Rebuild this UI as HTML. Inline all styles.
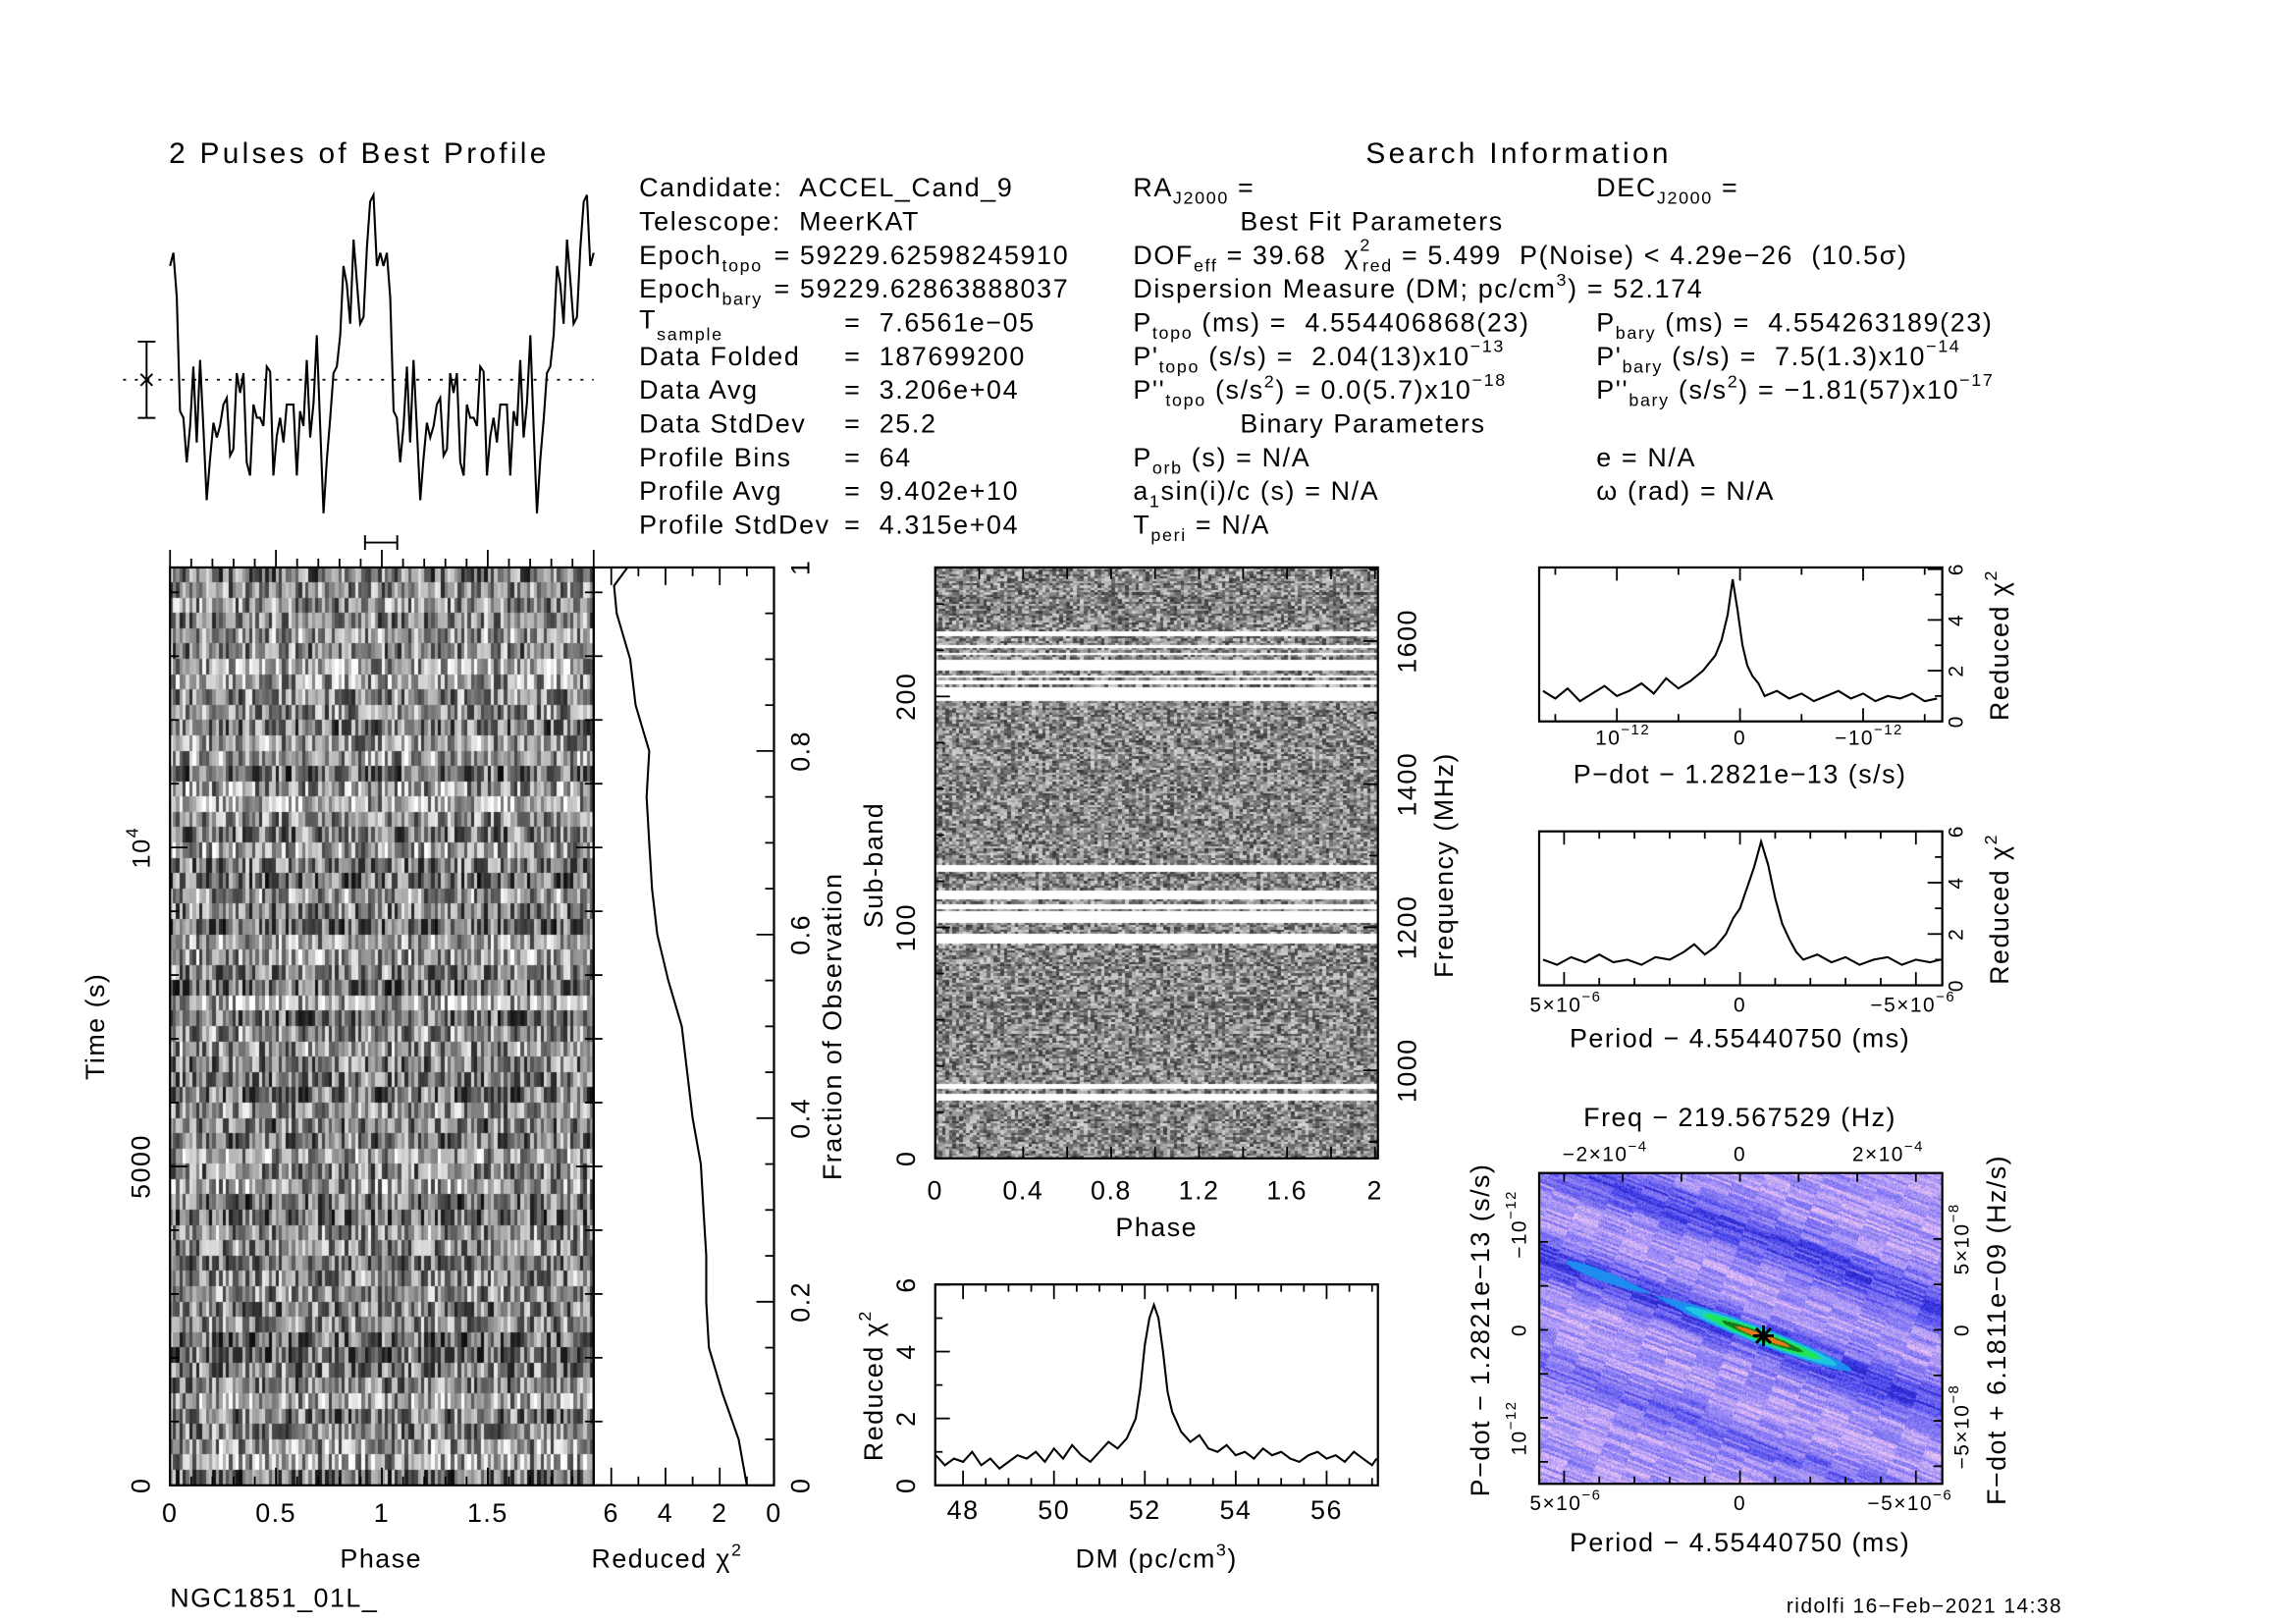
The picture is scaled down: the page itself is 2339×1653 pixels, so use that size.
<!DOCTYPE html>
<html><head><meta charset="utf-8">
<style>
html,body{margin:0;padding:0;background:#fff;}
#wrap{position:relative;width:2339px;height:1653px;overflow:hidden;background:#fff;}
canvas{position:absolute;}
svg{position:absolute;left:0;top:0;}
text{font-family:"Liberation Sans","DejaVu Sans",sans-serif;fill:#000;white-space:pre;letter-spacing:1px;}
.blk text{letter-spacing:1.1px;}
</style></head>
<body>
<div id="wrap">
<canvas id="cvTP"></canvas>
<canvas id="cvSB"></canvas>
<canvas id="cvPP"></canvas>
<svg id="svg" width="2339" height="1653" viewBox="0 0 1566.3 1106.9" xml:space="preserve">
<g font-size="17">
<text x="245" y="111" text-anchor="middle" font-size="20" style="letter-spacing:2.2px">2 Pulses of Best Profile</text>
<text x="1036" y="111" text-anchor="middle" font-size="20" style="letter-spacing:2.2px">Search Information</text>
</g>
<g class="blk" font-size="18">
<text x="436" y="134">Candidate:  ACCEL_Cand_9</text>
<text x="436" y="157">Telescope:  MeerKAT</text>
<text x="436" y="180">Epoch<tspan font-size="12" dy="5">topo</tspan><tspan dy="-5" x="528">= 59229.62598245910</tspan></text>
<text x="436" y="203">Epoch<tspan font-size="12" dy="5">bary</tspan><tspan dy="-5" x="528">= 59229.62863888037</tspan></text>
<text x="436" y="224">T<tspan font-size="12" dy="8">sample</tspan><tspan dy="-6" x="576">=  7.6561e−05</tspan></text>
<text x="436" y="249">Data Folded<tspan x="576">=  187699200</tspan></text>
<text x="436" y="272">Data Avg<tspan x="576">=  3.206e+04</tspan></text>
<text x="436" y="295">Data StdDev<tspan x="576">=  25.2</tspan></text>
<text x="436" y="318">Profile Bins<tspan x="576">=  64</tspan></text>
<text x="436" y="341">Profile Avg<tspan x="576">=  9.402e+10</tspan></text>
<text x="436" y="364">Profile StdDev<tspan x="576">=  4.315e+04</tspan></text>
</g>
<g class="blk" font-size="18">
<text x="773" y="134">RA<tspan font-size="12" dy="5">J2000</tspan><tspan dy="-5"> =</tspan></text>
<text x="846" y="157">Best Fit Parameters</text>
<text x="773" y="180">DOF<tspan font-size="12" dy="5">eff</tspan><tspan dy="-5"> = 39.68  χ</tspan><tspan font-size="12" dy="-9">2</tspan><tspan font-size="12" dy="14" dx="-6">red</tspan><tspan dy="-5"> = 5.499  P(Noise) &lt; 4.29e−26  (10.5σ)</tspan></text>
<text x="773" y="203">Dispersion Measure (DM; pc/cm<tspan font-size="12" dy="-8">3</tspan><tspan dy="8">) = 52.174</tspan></text>
<text x="773" y="226">P<tspan font-size="12" dy="5">topo</tspan><tspan dy="-5"> (ms) =  4.554406868(23)</tspan></text>
<text x="773" y="249">P'<tspan font-size="12" dy="5">topo</tspan><tspan dy="-5"> (s/s) =  2.04(13)x10</tspan><tspan font-size="12" dy="-9">−13</tspan></text>
<text x="773" y="272">P''<tspan font-size="12" dy="5">topo</tspan><tspan dy="-5"> (s/s</tspan><tspan font-size="12" dy="-8">2</tspan><tspan dy="8">) = 0.0(5.7)x10</tspan><tspan font-size="12" dy="-9">−18</tspan></text>
<text x="846" y="295">Binary Parameters</text>
<text x="773" y="318">P<tspan font-size="12" dy="5">orb</tspan><tspan dy="-5"> (s) = N/A</tspan></text>
<text x="773" y="341">a<tspan font-size="12" dy="5">1</tspan><tspan dy="-5">sin(i)/c (s) = N/A</tspan></text>
<text x="773" y="364">T<tspan font-size="12" dy="5">peri</tspan><tspan dy="-5"> = N/A</tspan></text>
</g>
<g class="blk" font-size="18">
<text x="1089" y="134">DEC<tspan font-size="12" dy="5">J2000</tspan><tspan dy="-5"> =</tspan></text>
<text x="1089" y="226">P<tspan font-size="12" dy="5">bary</tspan><tspan dy="-5"> (ms) =  4.554263189(23)</tspan></text>
<text x="1089" y="249">P'<tspan font-size="12" dy="5">bary</tspan><tspan dy="-5"> (s/s) =  7.5(1.3)x10</tspan><tspan font-size="12" dy="-9">−14</tspan></text>
<text x="1089" y="272">P''<tspan font-size="12" dy="5">bary</tspan><tspan dy="-5"> (s/s</tspan><tspan font-size="12" dy="-8">2</tspan><tspan dy="8">) = −1.81(57)x10</tspan><tspan font-size="12" dy="-9">−17</tspan></text>
<text x="1089" y="318">e = N/A</text>
<text x="1089" y="341">ω (rad) = N/A</text>
</g>
<g font-size="18">
<text x="260" y="1069" text-anchor="middle">Phase</text>
<text x="455" y="1069" text-anchor="middle">Reduced χ<tspan font-size="12" dy="-8">2</tspan></text>
<text x="116" y="1096">NGC1851_01L_</text>
<text transform="translate(71,700) rotate(-90)" text-anchor="middle">Time (s)</text>
<text transform="translate(574,700) rotate(-90)" text-anchor="middle">Fraction of Observation</text>
<text x="789" y="843" text-anchor="middle">Phase</text>
<text transform="translate(602,590) rotate(-90)" text-anchor="middle">Sub-band</text>
<text transform="translate(991,590) rotate(-90)" text-anchor="middle">Frequency (MHz)</text>
<text x="789" y="1069" text-anchor="middle">DM (pc/cm<tspan font-size="12" dy="-8">3</tspan><tspan dy="8">)</tspan></text>
<text transform="translate(602,945) rotate(-90)" text-anchor="middle">Reduced χ<tspan font-size="12" dy="-8">2</tspan></text>
<text x="1187" y="534" text-anchor="middle">P−dot − 1.2821e−13 (s/s)</text>
<text transform="translate(1370,440) rotate(-90)" text-anchor="middle">Reduced χ<tspan font-size="12" dy="-8">2</tspan></text>
<text x="1187" y="714" text-anchor="middle">Period − 4.55440750 (ms)</text>
<text transform="translate(1370,620) rotate(-90)" text-anchor="middle">Reduced χ<tspan font-size="12" dy="-8">2</tspan></text>
<text x="1187" y="768" text-anchor="middle">Freq − 219.567529 (Hz)</text>
<text x="1187" y="1058" text-anchor="middle">Period − 4.55440750 (ms)</text>
<text transform="translate(1016,907) rotate(-90)" text-anchor="middle">P−dot − 1.2821e−13 (s/s)</text>
<text transform="translate(1368,907) rotate(-90)" text-anchor="middle">F−dot + 6.1811e−09 (Hz/s)</text>
<text x="1407" y="1100" text-anchor="end" font-size="14">ridolfi 16−Feb−2021 14:38</text>
</g>
<g font-size="17">
<text x="1107" y="508" text-anchor="middle" font-size="14">10<tspan font-size="10" dy="-7">−12</tspan></text>
<text x="1187" y="508" text-anchor="middle" font-size="14">0</text>
<text x="1275" y="508" text-anchor="middle" font-size="14">−10<tspan font-size="10" dy="-7">−12</tspan></text>
<text x="1068" y="690" text-anchor="middle" font-size="14">5×10<tspan font-size="10" dy="-7">−6</tspan></text>
<text x="1187" y="690" text-anchor="middle" font-size="14">0</text>
<text x="1305" y="690" text-anchor="middle" font-size="14">−5×10<tspan font-size="10" dy="-7">−6</tspan></text>
<text x="1095" y="792" text-anchor="middle" font-size="14">−2×10<tspan font-size="10" dy="-7">−4</tspan></text>
<text x="1187" y="792" text-anchor="middle" font-size="14">0</text>
<text x="1288" y="792" text-anchor="middle" font-size="14">2×10<tspan font-size="10" dy="-7">−4</tspan></text>
<text x="1068" y="1030" text-anchor="middle" font-size="14">5×10<tspan font-size="10" dy="-7">−6</tspan></text>
<text x="1187" y="1030" text-anchor="middle" font-size="14">0</text>
<text x="1303" y="1030" text-anchor="middle" font-size="14">−5×10<tspan font-size="10" dy="-7">−6</tspan></text>
<text transform="translate(1041,835) rotate(-90)" text-anchor="middle" font-size="14">−10<tspan font-size="10" dy="-7">−12</tspan></text>
<text transform="translate(1041,907) rotate(-90)" text-anchor="middle" font-size="14">0</text>
<text transform="translate(1041,974) rotate(-90)" text-anchor="middle" font-size="14">10<tspan font-size="10" dy="-7">−12</tspan></text>
<text transform="translate(1343,845) rotate(-90)" text-anchor="middle" font-size="14">5×10<tspan font-size="10" dy="-7">−8</tspan></text>
<text transform="translate(1343,907) rotate(-90)" text-anchor="middle" font-size="14">0</text>
<text transform="translate(1343,973) rotate(-90)" text-anchor="middle" font-size="14">−5×10<tspan font-size="10" dy="-7">−8</tspan></text>
<text transform="translate(102,578) rotate(-90)" text-anchor="middle">10<tspan font-size="12" dy="-8">4</tspan></text>
</g>
<g id="marks"></g>
</svg>
</div>
<script>
// ---------- data ----------
const profileBins = [3.45,3.85,2.5,-0.95,-1.15,-2.5,-1.4,0.4,-1.9,0.6,-1.5,-3.65,-2.4,-1.3,-1.75,-1.4,-0.75,-0.55,-2.3,-2.1,0.2,-0.4,0.2,-2.5,-2.9,-0.75,-1.15,-1.15,-1.4,0.4,0.25,-2.9,-1.7,-1.15,-1.9,-0.75,-0.75,-0.75,-2.9,-0.95,-1.4,0.6,-1.75,-0.7,1.35,-1.4,-4.05,-2.4,-1.2,0.2,0.4,1.35,3.45,2.9,1.7,4.25,3.0,1.7,1.9,4.0,5.4,5.6,3.45,3.85];
const fracObs = [0,0.05,0.1,0.15,0.2,0.25,0.3,0.35,0.4,0.45,0.5,0.55,0.6,0.65,0.7,0.75,0.8,0.85,0.9,0.95,0.98,1.0];
const fracChi2 = [1.0,1.3,1.9,2.4,2.5,2.5,2.6,2.7,3.0,3.2,3.4,3.9,4.3,4.5,4.6,4.7,4.6,5.1,5.3,5.8,5.9,5.4];
const dmGrid = [47.4,47.6,47.8,48.0,48.2,48.4,48.6,48.8,49.0,49.2,49.4,49.6,49.8,50.0,50.2,50.4,50.6,50.8,51.0,51.2,51.4,51.6,51.8,51.9,52.0,52.1,52.2,52.3,52.4,52.5,52.6,52.8,53.0,53.2,53.4,53.6,53.8,54.0,54.2,54.4,54.6,54.8,55.0,55.2,55.4,55.6,55.8,56.0,56.2,56.4,56.6,56.8,57.0,57.1];
const dmChi2 = [0.9,0.6,0.8,0.7,1.0,0.6,0.8,0.5,0.7,0.9,0.8,1.0,0.7,1.1,0.8,1.2,0.9,0.7,1.0,1.3,1.1,1.4,2.0,2.9,4.2,5.0,5.4,5.0,4.0,2.8,2.2,1.6,1.3,1.5,1.1,1.0,1.2,0.9,1.0,0.8,1.1,0.9,1.0,0.8,0.7,0.9,1.0,0.8,0.9,0.7,1.0,0.8,0.6,0.8];
const pdotGrid = [1.6,1.5,1.4,1.3,1.2,1.1,1.0,0.9,0.8,0.7,0.6,0.5,0.4,0.3,0.2,0.15,0.1,0.06,0.02,-0.02,-0.06,-0.1,-0.15,-0.2,-0.3,-0.4,-0.5,-0.6,-0.7,-0.8,-0.9,-1.0,-1.1,-1.2,-1.3,-1.4,-1.5,-1.6];
const pdotChi2 = [1.2,0.9,1.3,0.8,1.1,1.4,1.0,1.2,1.5,1.1,1.7,1.3,1.6,2.0,2.6,3.2,4.2,5.6,4.4,3.0,2.2,1.8,1.5,1.0,1.2,0.9,1.1,0.8,1.0,1.2,0.9,1.1,0.8,1.0,0.9,1.1,0.8,0.9];
const perGrid = [5.6,5.2,4.8,4.4,4.0,3.6,3.2,2.8,2.4,2.0,1.6,1.3,1.0,0.7,0.4,0.2,0.0,-0.2,-0.4,-0.6,-0.8,-1.0,-1.2,-1.4,-1.6,-1.8,-2.2,-2.6,-3.0,-3.4,-3.8,-4.2,-4.6,-5.0,-5.4,-5.7];
const perChi2 = [1.0,0.8,1.1,0.9,1.2,0.9,1.0,0.8,1.1,1.0,1.3,1.6,1.2,1.5,2.0,2.6,3.0,3.8,4.6,5.6,4.7,3.4,2.4,1.8,1.3,1.0,1.2,0.9,1.1,0.8,1.0,1.1,0.8,1.0,0.9,1.0];
const maskedSubbands = [25,26,27,30,31,93,94,95,96,102,103,104,105,106,108,109,112,113,114,115,124,125,126,198,199,200,201,202,203,205,206,208,211,212,213,214,215,218,221,226,227];
const timeTicks = [0,5000];
const fracTicks = [0,0.2,0.4,0.6,0.8,1];
const chiTicks = [6,4,2,0];
const phaseTicks = [0,0.5,1,1.5];
const sbPhaseTicks = [0,0.4,0.8,1.2,1.6,2];
const sbTicks = [0,100,200];
const freqTicks = [1000,1200,1400,1600];
const dmTicks = [48,50,52,54,56];
const redTicks = [0,2,4,6];

// ---------- helpers ----------
const NS='http://www.w3.org/2000/svg';
const S=2339/1566.3;
const marks=document.getElementById('marks');
function mk(tag,attrs,parent){const e=document.createElementNS(NS,tag);for(const k in attrs)e.setAttribute(k,attrs[k]);(parent||marks).appendChild(e);return e;}
function txt(x,y,s,rot,anchor){const t=mk('text',{x:0,y:0,'font-size':18,'text-anchor':anchor||'middle',transform:'translate('+x+','+y+')'+(rot?' rotate('+rot+')':'')});t.textContent=s;return t;}
function hash(a,b,c){let h=(a*374761393+b*668265263+c*1274126177)|0;h=(h^(h>>>13))*1274126177|0;h=h^(h>>>16);return ((h>>>0)%10000)/10000;}

const tpX=p=>116+p*144.5, tpY=t=>1013-t*0.0435;
const fX=c=>528-c*18.5, fY=f=>1013-f*626;
const sbX=p=>638+p*150, sbY=s=>790-s*1.575, frY=f=>730-(f-1000)*0.488;
const dmX=d=>657+(d-48)*31, dmY=c=>1013-c*22.8;
const pdX=u=>1187-u*84, pdY=c=>492-c*17.3;
const peX=u=>1187-u*24, peY=c=>672-c*17.5;
const prX=i=>116+i*(289/127), prY=v=>259-v*22.5;

// ---------- profile ----------
let el=mk('line',{x1:84,y1:259,x2:405,y2:259,stroke:'#000','stroke-width':1.2,'stroke-dasharray':'2,6'});


el=mk('path',{d:'M100 233V285M94 233H106M94 285H106M96 255L104 263M104 255L96 263',stroke:'#000','stroke-width':1.3,fill:'none'});


el=mk('path',{d:'M249 365V375M271 365V375M249 370H271',stroke:'#000','stroke-width':1.3,fill:'none'});


let pd='';
for(let i=0;i<128;i++){const v=profileBins[i%64];pd+=(i?'L':'M')+prX(i).toFixed(1)+' '+prY(v).toFixed(1);}
el=mk('path',{d:pd,stroke:'#000','stroke-width':1.4,fill:'none'});



// ---------- canvases ----------
function setupCanvas(id,x,y,w,h){const c=document.getElementById(id);c.style.left=(x*S)+'px';c.style.top=(y*S)+'px';c.width=Math.round(w*S);c.height=Math.round(h*S);return c;}
(function(){const c=setupCanvas('cvTP',116,387,289,626);const g=c.getContext('2d');const rows=60,cols=128;
const cw=c.width/cols,ch=c.height/rows;
for(let r=0;r<rows;r++){const rb=hash(r,7,3)*0.25-0.12;for(let k=0;k<cols;k++){let v=hash(r,k%64,1);v=0.15+0.8*v+rb;v=Math.max(0.05,Math.min(1,v));const q=Math.round(v*255);g.fillStyle='rgb('+q+','+q+','+q+')';g.fillRect(Math.floor(k*cw),Math.floor(r*ch),Math.ceil(cw)+1,Math.ceil(ch)+1);}}})();
(function(){const c=setupCanvas('cvSB',638,387,302,403);const g=c.getContext('2d');const rows=256,cols=128;
const cw=c.width/cols,ch=c.height/rows;
for(let r=0;r<rows;r++){const sb=rows-1-r;const masked=maskedSubbands.indexOf(sb)>=0;for(let k=0;k<cols;k++){let q;if(masked){q=255;}else{let v=hash(sb,k%64,9);v=0.22+0.62*v;q=Math.round(v*255);}g.fillStyle='rgb('+q+','+q+','+q+')';g.fillRect(Math.floor(k*cw),Math.floor(r*ch),Math.ceil(cw)+1,Math.ceil(ch)+1);}}})();
(function(){const c=setupCanvas('cvPP',1050,800,275,212);const g=c.getContext('2d');const W=c.width,H=c.height;
const img=g.createImageData(W,H);const cx=(1202-1050)*S,cy=(911-800)*S;const ang=Math.atan(0.38);const ca=Math.cos(ang),sa=Math.sin(ang);
const pal=[[235,195,245],[190,165,245],[150,135,245],[115,105,240],[75,70,235],[40,40,205]];
for(let y=0;y<H;y++)for(let x=0;x<W;x++){const dx=x-cx,dy=y-cy;const along=dx*ca+dy*sa;const perp=-dx*sa+dy*ca;
const pu=perp/S;let dark=Math.exp(-Math.pow((pu-2)/14,2))*0.9+Math.exp(-Math.pow((pu+62)/16,2))*0.8+Math.exp(-Math.pow((pu-70)/12,2))*0.5;
let n=hash(Math.floor(perp/2.2),Math.floor(along/28),5)*0.6+hash(x,y,2)*0.4;
let lvl=n*3.8+dark*3.0;let idx=Math.max(0,Math.min(5,Math.floor(lvl)));let col=pal[idx];
const au=along/S;const sig=Math.exp(-Math.pow(au/55,2)-Math.pow(pu/5,2))+0.35*Math.exp(-Math.pow((au+120)/40,2)-Math.pow(pu/6,2));
if(sig>0.88)col=[240,120,20];else if(sig>0.75)col=[20,120,30];else if(sig>0.55)col=[30,230,90];else if(sig>0.38)col=[30,200,220];else if(sig>0.25)col=[30,140,240];
const o=(y*W+x)*4;img.data[o]=col[0];img.data[o+1]=col[1];img.data[o+2]=col[2];img.data[o+3]=255;}
g.putImageData(img,0,0);})();

// ---------- frames ----------
function frame(x,y,w,h){return mk('rect',{x:x,y:y,width:w,height:h,fill:'none',stroke:'#000','stroke-width':1.5});}
el=frame(116,387,289,626);
el=frame(405,387,123,626);
el=frame(638,387,302,403);
el=frame(638,876,302,137);
el=frame(1050,387,275,105);
el=frame(1050,567,275,105);
el=frame(1050,800,275,212);

// ---------- ticks ----------
const tk=mk('g',{stroke:'#000','stroke-width':1.2});


function line(x1,y1,x2,y2){mk('line',{x1:x1,y1:y1,x2:x2,y2:y2},tk);}
for(let p=0;p<=2.001;p+=0.1){const x=tpX(p),maj=Math.abs(p*2-Math.round(p*2))<1e-6;line(x,387,x,maj?375:381);line(x,1013,x,maj?1001:1007);}
for(let t=0;t<=14000;t+=1000){const y=tpY(t),maj=t%5000===0;line(116,y,maj?128:122,y);line(405,y,maj?393:399,y);line(405,y,411,y);}
for(let v=0;v<=6;v+=1){const x=fX(v);line(x,1013,x,v%2?1007:1001);line(x,387,x,v%2?393:399);}
for(let f=0;f<=1.001;f+=0.05){const y=fY(f),maj=Math.abs(f*5-Math.round(f*5))<1e-6;line(528,y,maj?516:522,y);}
for(let p=0;p<=2.001;p+=0.2){const x=sbX(p);line(x,790,x,782);line(x,387,x,395);}
for(let s=0;s<=250;s+=20){line(638,sbY(s),s%100?644:648,sbY(s));}
for(let f=900;f<=1700;f+=100){const y=frY(f);if(y>387&&y<790)line(940,y,f%200?934:930,y);}
for(let d=48;d<=57;d+=0.5){const x=dmX(d);line(x,1013,x,d%2?1008:1003);line(x,876,x,d%2?881:886);}
for(let c2=0;c2<=6;c2+=1){line(638,dmY(c2),c2%2?643:648,dmY(c2));line(1325,pdY(c2),c2%2?1320:1315,pdY(c2));line(1325,peY(c2),c2%2?1320:1315,peY(c2));}
for(let u=-1.5;u<=1.5;u+=0.5){const x=pdX(u);line(x,492,x,u%1?487:483);line(x,387,x,u%1?392:396);}
for(let u=-5;u<=5;u+=1){const x=peX(u);line(x,672,x,u%5?667:663);line(x,567,x,u%5?572:576);line(x,1012,x,u%5?1007:1003);}
for(let u=-2;u<=3;u+=1){line(1050,907+u*30,1056,907+u*30);line(1325,907+u*31,1319,907+u*31);}
for(let u=-3;u<=3;u+=1){line(1187+u*40,800,1187+u*40,806);}

// ---------- tick labels ----------
const tl=mk('g',{});


phaseTicks.forEach(p=>{tl.appendChild(txt(tpX(p),1038,String(p)));});
chiTicks.forEach(v=>{tl.appendChild(txt(fX(v),1038,String(v)));});
timeTicks.forEach(t=>{tl.appendChild(txt(102,tpY(t),String(t),-90));});
fracTicks.forEach(f=>{tl.appendChild(txt(552,fY(f),String(f),-90));});
sbPhaseTicks.forEach(p=>{tl.appendChild(txt(sbX(p),818,String(p)));});
sbTicks.forEach(s=>{tl.appendChild(txt(624,sbY(s),String(s),-90));});
freqTicks.forEach(f=>{tl.appendChild(txt(966,frY(f),String(f),-90));});
dmTicks.forEach(d=>{tl.appendChild(txt(dmX(d),1036,String(d)));});
redTicks.forEach(c2=>{tl.appendChild(txt(624,dmY(c2),String(c2),-90));});
redTicks.forEach(c2=>{const t=txt(1339,pdY(c2),String(c2),-90);t.setAttribute('font-size',14);tl.appendChild(t);});
redTicks.forEach(c2=>{const t=txt(1339,peY(c2),String(c2),-90);t.setAttribute('font-size',14);tl.appendChild(t);});

// ---------- curves ----------
function curve(xs,ys,fx,fy){let d='';for(let i=0;i<xs.length;i++)d+=(i?'L':'M')+fx(xs[i]).toFixed(1)+' '+fy(ys[i]).toFixed(1);return mk('path',{d:d,stroke:'#000','stroke-width':1.4,fill:'none'});}
el=curve(fracChi2,fracObs,fX,fY);


el=curve(dmGrid,dmChi2,dmX,dmY);


el=curve(pdotGrid,pdotChi2,pdX,pdY);


el=curve(perGrid,perChi2,peX,peY);


el=mk('path',{d:'M1196 911H1210M1203 904V918M1198 906L1208 916M1208 906L1198 916',stroke:'#000','stroke-width':2});


</script>
</body></html>
